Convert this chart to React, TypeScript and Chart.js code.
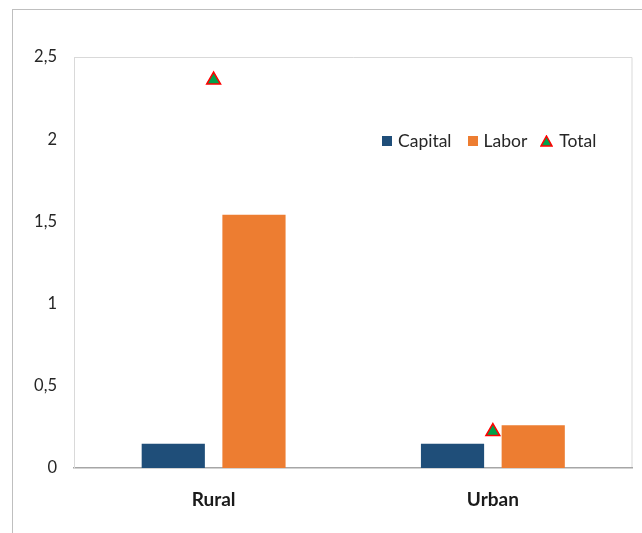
import React, { useEffect, useRef } from "react";
import { Chart, registerables } from "chart.js";

Chart.register(...registerables);

const categories = ["Rural", "Urban"];
const capital = [0.147, 0.147];
const labor = [1.54, 0.26];
const total = [2.36, 0.222];
const yTicks = [0, 0.5, 1, 1.5, 2, 2.5];

const CAPITAL_COLOR = "#1F4E79";
const LABOR_COLOR = "#ED7D31";
const TOTAL_FILL = "#00A14B";
const TOTAL_EDGE = "#FF0000";
const FONT = "Lato, 'Open Sans', sans-serif";

const boxPlugin = {
  id: "plotBox",
  beforeDraw(chart: any) {
    const { ctx, chartArea } = chart;
    ctx.save();
    ctx.strokeStyle = "#d9d9d9";
    ctx.lineWidth = 1;
    ctx.beginPath();
    ctx.moveTo(chartArea.left + 0.5, chartArea.bottom);
    ctx.lineTo(chartArea.left + 0.5, chartArea.top + 0.5);
    ctx.lineTo(chartArea.right - 0.5, chartArea.top + 0.5);
    ctx.lineTo(chartArea.right - 0.5, chartArea.bottom);
    ctx.stroke();
    ctx.restore();
  },
};

export default function App() {
  const ref = useRef<HTMLCanvasElement | null>(null);

  useEffect(() => {
    if (!ref.current) return;
    const chart = new Chart(ref.current, {
      type: "bar",
      data: {
        labels: categories,
        datasets: [
          {
            type: "bar",
            label: "Capital",
            data: capital,
            backgroundColor: CAPITAL_COLOR,
            categoryPercentage: 0.578,
            barPercentage: 0.783,
            order: 2,
          },
          {
            type: "bar",
            label: "Labor",
            data: labor,
            backgroundColor: LABOR_COLOR,
            categoryPercentage: 0.578,
            barPercentage: 0.783,
            order: 2,
          },
          {
            type: "line",
            label: "Total",
            data: total,
            showLine: false,
            pointStyle: "triangle",
            pointRadius: 8,
            pointHoverRadius: 8,
            pointBackgroundColor: TOTAL_FILL,
            pointBorderColor: TOTAL_EDGE,
            pointBorderWidth: 1.5,
            backgroundColor: TOTAL_FILL,
            borderColor: TOTAL_EDGE,
            order: 1,
          } as any,
        ],
      },
      options: {
        responsive: false,
        animation: false,
        devicePixelRatio: 1,
        layout: { padding: { left: 0, right: 7, top: 47, bottom: 0 } },
        plugins: {
          legend: { display: false },
          tooltip: { enabled: false },
        },
        scales: {
          x: {
            grid: { display: false, drawTicks: false },
            border: { display: true, color: "#a6a6a6", width: 1.5 },
            ticks: {
              padding: 20,
              color: "#1a1a1a",
              font: { family: FONT, size: 19, weight: "bold" },
            },
            afterFit(scale: any) {
              scale.height = 65;
            },
          },
          y: {
            min: 0,
            max: 2.5,
            grid: { display: false, drawTicks: false },
            border: { display: true, color: "#d9d9d9", width: 1 },
            afterBuildTicks(scale: any) {
              scale.ticks = yTicks.map((v) => ({ value: v }));
            },
            ticks: {
              padding: 17,
              color: "#262626",
              font: { family: FONT, size: 16.5 },
              callback: (v: any) => String(v).replace(".", ","),
            },
            afterFit(scale: any) {
              scale.width = 61;
            },
          },
        },
      },
      plugins: [boxPlugin],
    });
    return () => chart.destroy();
  }, []);

  const legendItem = (marker: React.ReactNode, text: string, gapAfter: number) => (
    <div style={{ display: "flex", alignItems: "center", marginRight: gapAfter }}>
      {marker}
      <span style={{ marginLeft: 6 }}>{text}</span>
    </div>
  );

  return (
    <div
      style={{
        position: "absolute",
        left: 12,
        top: 9,
        width: 629,
        height: 523,
        borderTop: "1px solid #bfbfbf",
        borderLeft: "1px solid #bfbfbf",
        background: "#fff",
      }}
    >
      <canvas ref={ref} width={629} height={523} style={{ display: "block", width: 629, height: 523 }} />
      <div
        style={{
          position: "absolute",
          left: 369,
          top: 121,
          height: 20,
          display: "flex",
          alignItems: "center",
          fontFamily: FONT,
          fontSize: 17.5,
          color: "#262626",
          whiteSpace: "nowrap",
          lineHeight: "20px",
        }}
      >
        {legendItem(<span style={{ display: "inline-block", width: 10, height: 10, background: CAPITAL_COLOR }} />, "Capital", 16)}
        {legendItem(<span style={{ display: "inline-block", width: 10, height: 10, background: LABOR_COLOR }} />, "Labor", 13)}
        {legendItem(
          <svg width="13" height="12" viewBox="0 0 13 12" style={{ display: "block" }}>
            <polygon points="6.5,1 12,11 1,11" fill={TOTAL_FILL} stroke={TOTAL_EDGE} strokeWidth="1.5" />
          </svg>,
          "Total",
          0
        )}
      </div>
    </div>
  );
}
